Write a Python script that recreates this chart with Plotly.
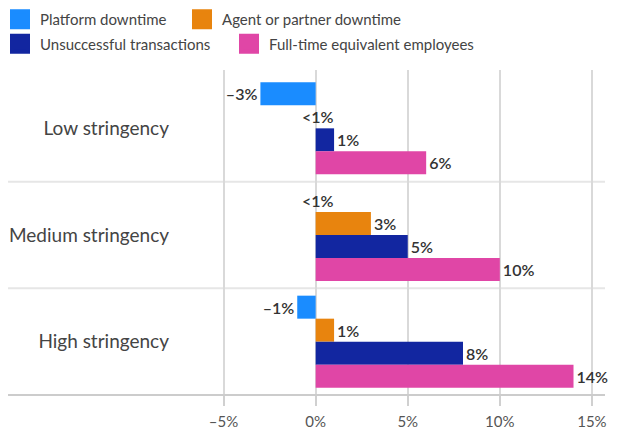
import plotly.graph_objects as go

categories = ["Low stringency", "Medium stringency", "High stringency"]
series_names = ["Platform downtime", "Agent or partner downtime",
                "Unsuccessful transactions", "Full-time equivalent employees"]
platform = [-3, 0, -1]
agent = [0, 3, 1]
unsuccessful = [1, 5, 8]
fte = [6, 10, 14]
platform_labels = ["–3%", "<1%", "–1%"]
agent_labels = ["<1%", "3%", "1%"]
unsuccessful_labels = ["1%", "5%", "8%"]
fte_labels = ["6%", "10%", "14%"]
tick_vals = [-5, 0, 5, 10, 15]
tick_labels = ["–5%", "0%", "5%", "10%", "15%"]

colors = ["#1a8cff", "#e8840e", "#1226a0", "#e046a6"]
values = [platform, agent, unsuccessful, fte]
labels = [platform_labels, agent_labels, unsuccessful_labels, fte_labels]

FONT = "Lato"
BARGAP = 0.1375
LABEL_FONT = dict(family=FONT, size=16, color="#333333", weight=600)
W, H = 617, 433

fig = go.Figure()
for name, vals, labs, col in zip(series_names, values, labels, colors):
    fig.add_trace(go.Bar(
        y=categories, x=vals, orientation="h", name=name,
        marker=dict(color=col, line=dict(width=0)),
        text=[l if v != 0 else "" for v, l in zip(vals, labs)],
        textposition="outside", cliponaxis=False,
        textfont=LABEL_FONT, constraintext="none",
        showlegend=False, hoverinfo="skip",
    ))

# legend entries: one legend per entry so the flow matches the reference
legend_ids = ["legend", "legend2", "legend3", "legend4"]
for name, col, lid in zip(series_names, colors, legend_ids):
    fig.add_trace(go.Scatter(
        x=[None], y=[None], mode="markers", name=name,
        marker=dict(symbol="square", size=16, color=col,
                    line=dict(color=col, width=4)),
        legend=lid, showlegend=True, hoverinfo="skip",
    ))

# "<1%" labels for near-zero values
n = len(series_names)
slot = (1 - BARGAP) / n
annotations = []
for k, (vals, labs) in enumerate(zip(values, labels)):
    for ci, (v, l) in enumerate(zip(vals, labs)):
        if v == 0:
            annotations.append(dict(
                x=0, y=ci + (k - (n - 1) / 2) * slot, xref="x", yref="y",
                text=l, showarrow=False, xanchor="center", yanchor="middle",
                xshift=2, font=LABEL_FONT))

shapes = []
for yv in [0.5, 1.5]:
    shapes.append(dict(type="line", xref="paper", yref="y", x0=-0.474, x1=1,
                       y0=yv, y1=yv, line=dict(color="#e6e6e6", width=2),
                       layer="below"))
shapes.append(dict(type="line", xref="paper", yref="paper", x0=-0.474, x1=1,
                   y0=0, y1=0, line=dict(color="#cccccc", width=2),
                   layer="above"))

# legend box left edge / top edge in pixels
legend_pos = [(-8.2, 3), (182, 3), (-8.2, 27.5), (229, 27.5)]
legend_common = dict(orientation="h", xref="container", yref="container",
                     xanchor="left", yanchor="top",
                     font=dict(family=FONT, size=15, color="#444444"),
                     itemsizing="trace", bgcolor="rgba(0,0,0,0)",
                     borderwidth=0)
legends = {}
for lid, (lx, ly) in zip(legend_ids, legend_pos):
    legends[lid] = dict(legend_common, x=lx / W, y=1 - ly / H)

fig.update_layout(
    width=W, height=H,
    margin=dict(l=200, r=12, t=70, b=38),
    paper_bgcolor="white", plot_bgcolor="white",
    barmode="group", bargap=BARGAP, bargroupgap=0,
    font=dict(family=FONT, color="#444444"),
    xaxis=dict(range=[-6.28, 15.71], tickvals=tick_vals, ticktext=tick_labels,
               showgrid=True, gridcolor="#d9d9d9", gridwidth=2,
               zeroline=False, showline=False, automargin=False,
               ticks="outside", ticklen=10, tickwidth=2, tickcolor="#d0d0d0",
               ticklabelstandoff=3,
               tickfont=dict(family=FONT, size=15, color="#555555")),
    yaxis=dict(type="category", categoryorder="array", categoryarray=categories,
               range=[2.5, -0.547], showgrid=False, zeroline=False,
               automargin=False, ticks="", ticklabelstandoff=30,
               tickfont=dict(family=FONT, size=19, color="#444444")),
    annotations=annotations, shapes=shapes,
    **legends,
)

fig.write_html("out.html",
               config={"displayModeBar": False},
               post_script="document.body.style.margin='0';"
                           "document.body.style.overflow='hidden';")
